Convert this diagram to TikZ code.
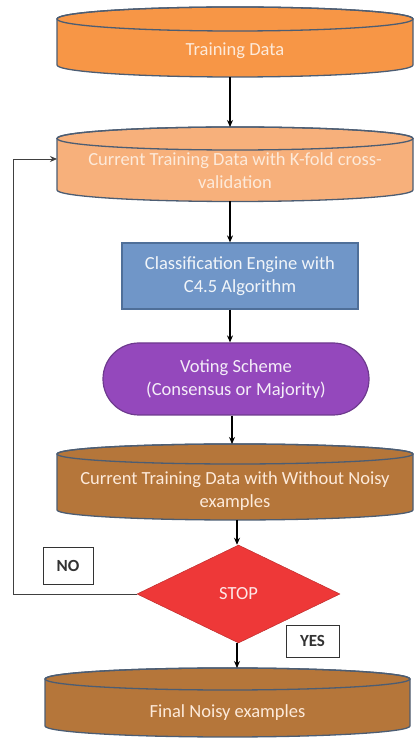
\documentclass[tikz,border=0pt]{standalone}
\usepackage{fontspec}
\setmainfont{Carlito}
\usetikzlibrary{shapes.geometric,arrows.meta}
\definecolor{cylborder}{HTML}{4C5D73}
\definecolor{orangeA}{HTML}{F79646}
\definecolor{orangeB}{HTML}{F7B07B}
\definecolor{brownC}{HTML}{B5763A}
\definecolor{blueBox}{HTML}{7096C8}
\definecolor{blueBorder}{HTML}{4F6F99}
\definecolor{purpleCap}{HTML}{9448BC}
\definecolor{purpleBorder}{HTML}{6E3A8E}
\definecolor{redDia}{HTML}{EE3838}
\definecolor{lightTxt}{HTML}{FDEADA}
\newcommand\mycyl[6]{%
  \pgfmathsetmacro\myrx{(#2-#1)/2}%
  \pgfmathsetmacro\mycx{(#2+#1)/2}%
  \filldraw[fill=#6, draw=cylborder, line width=1.3pt] (#1,#3) -- (#1,#4)
    arc[start angle=180, end angle=360, x radius=\myrx, y radius=#5] -- (#2,#3)
    arc[start angle=0, end angle=180, x radius=\myrx, y radius=#5] -- cycle;
  \draw[draw=cylborder, line width=1.3pt] (\mycx,#3) ellipse[x radius=\myrx, y radius=#5];
}
\tikzset{
  ghost/.style={inner sep=0pt, outer sep=0pt, draw=none},
  lbl/.style={font=\fontsize{18.5}{23}\selectfont, align=center, inner sep=0pt},
  arr/.style={-{Stealth[length=7pt,width=6pt]}, line width=1.1pt, black},
  tag/.style={draw=black!80, line width=0.9pt, fill=white, font=\fontsize{17}{18}\selectfont\bfseries, text=black!80, inner sep=0pt}
}
\begin{document}
\begin{tikzpicture}[x=1pt,y=1pt]
\useasboundingbox (0,0) rectangle (414,740);
% cylinder 1
\mycyl{57}{413}{721}{675}{12}{orangeA}
\node[ghost, minimum width=356pt, minimum height=70pt] (c1) at (235,698) {};
\node[lbl, text=lightTxt] (t1) at (235,689) {Training Data};
% cylinder 2
\mycyl{57}{413}{601.5}{550}{11.5}{orangeB}
\node[ghost, minimum width=356pt, minimum height=74.5pt] (c2) at (235,575.75) {};
\node[lbl, text=lightTxt] (t2) at (235,569) {Current Training Data with K-fold cross-\\validation};
% box
\node[draw=blueBorder, line width=1.2pt, fill=blueBox, minimum width=236pt, minimum height=66pt, lbl, text=white!90!blueBox] (box) at (240,464) {Classification Engine with\\C4.5 Algorithm};
% capsule
\node[draw=purpleBorder, line width=1.2pt, fill=purpleCap, rounded corners=36pt, minimum width=266pt, minimum height=72pt, lbl, text=white!90!purpleCap] (cap) at (236,361) {Voting Scheme\\(Consensus or Majority)};
% cylinder 3
\mycyl{57}{413}{286}{230}{10}{brownC}
\node[ghost, minimum width=356pt, minimum height=76pt] (c3) at (235,258) {};
\node[lbl, text=lightTxt] (t3) at (235,249) {Current Training Data with Without Noisy\\examples};
% diamond
\node[diamond, fill=redDia, draw=redDia!80!black, line width=0.5pt, minimum width=203pt, minimum height=98pt, aspect=2.07, inner sep=0pt, lbl, text=white!88!redDia] (dia) at (238.5,146) {STOP};
% cylinder 4
\mycyl{45}{410}{61}{14}{11}{brownC}
\node[ghost, minimum width=365pt, minimum height=69pt] (c4) at (227.5,37.5) {};
\node[lbl, text=lightTxt] (t4) at (227.5,27) {Final Noisy examples};
% tags
\node[tag, minimum width=50pt, minimum height=37pt] (no) at (68,174.5) {NO};
\node[tag, minimum width=53pt, minimum height=32pt] (yes) at (312.5,99) {YES};
% connectors
\draw[arr] ([xshift=-5pt]c1.south) -- ([xshift=-5pt]c1.south |- c2.north);
\draw[arr] ([xshift=-5pt]c2.south) -- ([xshift=-5pt]c2.south |- box.north);
\draw[arr] ([xshift=-10pt]box.south) -- ([xshift=-10pt]box.south |- cap.north);
\draw[arr] ([xshift=-4pt]cap.south) -- ([xshift=-4pt]cap.south |- c3.north);
\draw[arr] ([xshift=-1.5pt]dia.north |- c3.south) -- ([xshift=-1.5pt]dia.north);
\draw[arr] ([xshift=-1.5pt]dia.south) -- ([xshift=-1.5pt]dia.south |- c4.north);
\coordinate (fb) at (13,146);
\coordinate (fbend) at (57,581);
\draw[arr, line width=0.9pt, black!75] (dia.west) -- (fb) |- (fbend);
\end{tikzpicture}
\end{document}
